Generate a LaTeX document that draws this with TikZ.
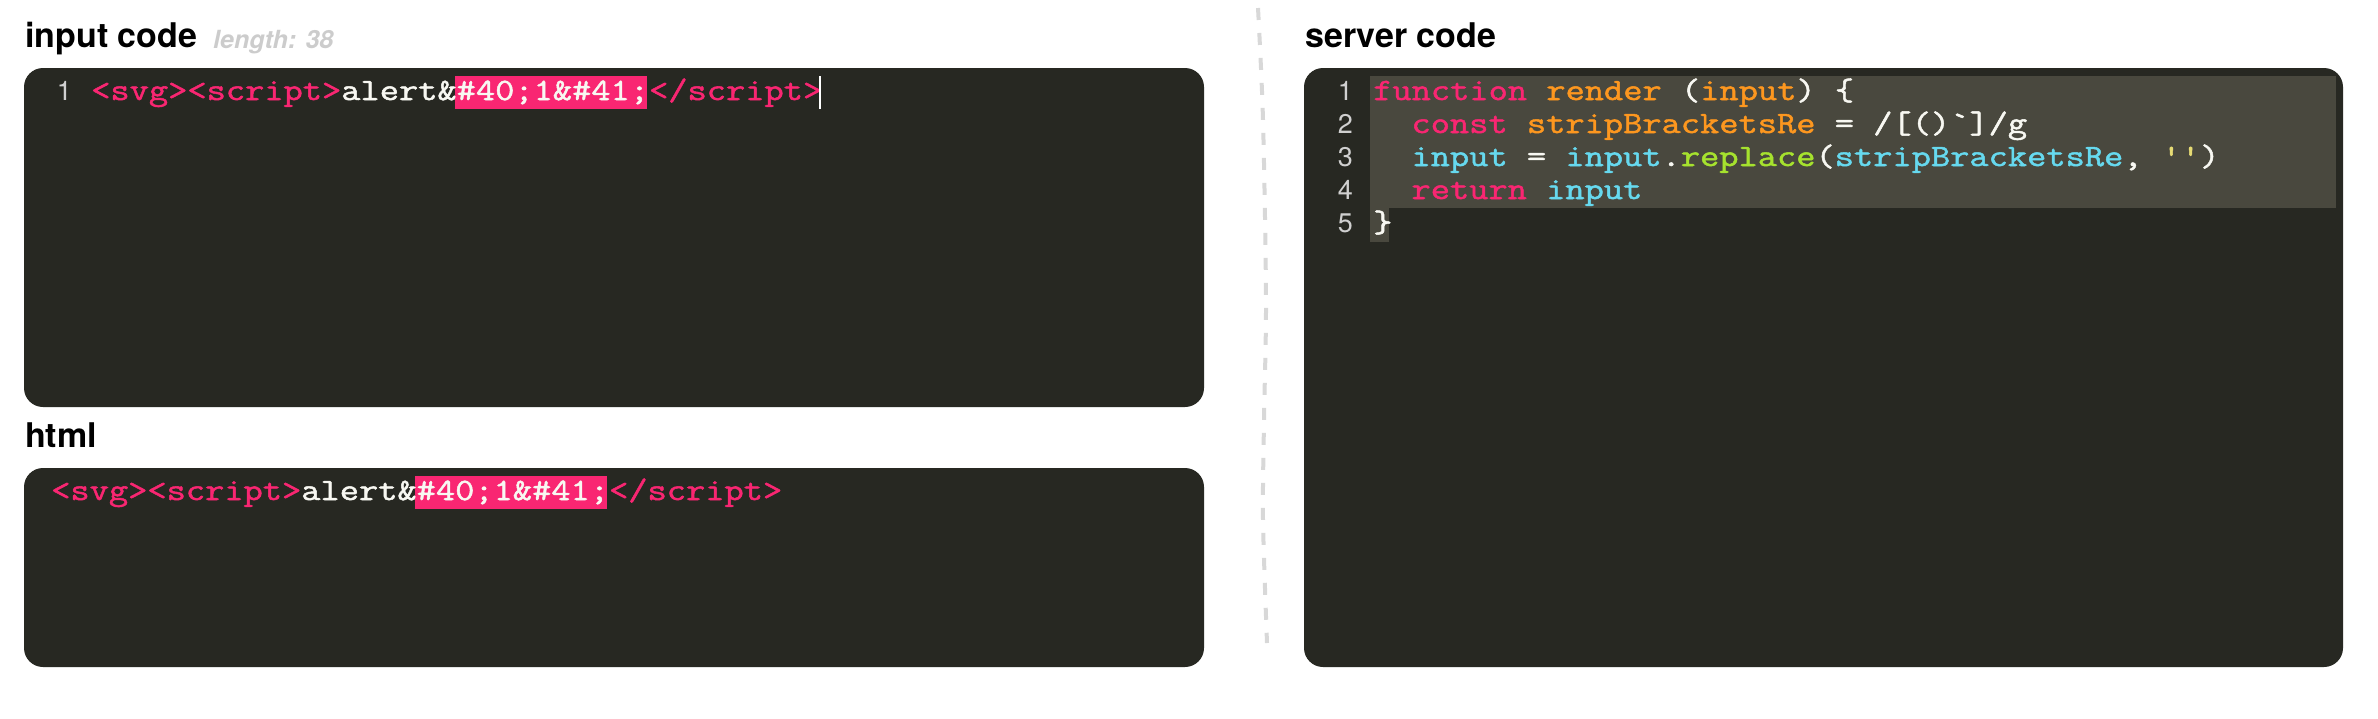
\documentclass[tikz,border=0pt]{standalone}
\usepackage{fontspec}
\newfontfamily\sansf{TeX Gyre Heros}
\newfontfamily\codef{Latin Modern Mono}[Ligatures=TeXOff,FakeStretch=1.205,FakeBold=1.6]
\definecolor{bgc}{HTML}{272822}
\definecolor{hlc}{HTML}{49483E}
\definecolor{pk}{HTML}{F92672}
\definecolor{orc}{HTML}{FD971F}
\definecolor{cy}{HTML}{66D9EF}
\definecolor{grc}{HTML}{A6E22E}
\definecolor{yl}{HTML}{E6DB74}
\definecolor{wt}{HTML}{F8F8F2}
\definecolor{gut}{HTML}{D0D0D0}
\definecolor{dashc}{HTML}{D8D8D8}
\definecolor{lgray}{HTML}{CCCCCC}
\begin{document}
\begin{tikzpicture}[x=1pt,y=-1pt,
  panel/.style={fill=bgc,rounded corners=19pt,draw=none},
  title/.style={anchor=base west,inner sep=0pt,font=\sansf\bfseries\fontsize{34}{36}\selectfont,text=black},
  codeline/.style={anchor=base west,inner sep=0pt,font=\codef\fontsize{31}{33}\selectfont,text=wt},
  lnum/.style={anchor=base east,inner sep=0pt,font=\sansf\fontsize{27}{29}\selectfont,text=gut},
  pinkhl/.style={fill=pk,draw=none},
  linehl/.style={fill=hlc,draw=none}]
\useasboundingbox (0,0) rectangle (2378,718);
\fill[white] (0,0) rectangle (2378,718);

% titles
\node[title] (tin) at (25,47) {input code};
\node[anchor=base west,inner sep=0pt,font=\sansf\bfseries\itshape\fontsize{25}{27}\selectfont,text=lgray] (tlen) at (213,48) {length: 38};
\node[title] (thtml) at (25,447) {html};
\node[title] (tsrv) at (1305,47) {server code};

% panels
\fill[panel] (24,68) rectangle (1204,407);
\fill[panel] (24,468) rectangle (1204,667);
\fill[panel] (1304,68) rectangle (2343,667);

% divider
\draw[draw=dashc,line width=4pt,dash pattern=on 12pt off 13pt]
  plot[smooth] coordinates {(1258,8) (1263,120) (1266,300) (1264,420) (1263,520) (1267,643)};

% input code
\fill[pinkhl] (455,76) rectangle (647,109);
\node[lnum] (in1) at (72,100) {1};
\node[codeline] (inc) at (91,100) {\textcolor{pk}{<svg><script>}alert\&\#40;1\&\#41;\textcolor{pk}{</script>}};
\draw[white,line width=2pt] (820,76) -- (820,109);

% html
\fill[pinkhl] (415,476) rectangle (607,509);
\node[codeline] (hc) at (51,500) {\textcolor{pk}{<svg><script>}alert\&\#40;1\&\#41;\textcolor{pk}{</script>}};

% server code
\fill[linehl] (1370,76) rectangle (2336,208);
\fill[linehl] (1370,208) rectangle (1389,242);
\node[lnum] (s1) at (1353,100) {1};
\node[lnum] (s2) at (1353,133) {2};
\node[lnum] (s3) at (1353,166) {3};
\node[lnum] (s4) at (1353,199) {4};
\node[lnum] (s5) at (1353,232) {5};
\node[codeline] (c1) at (1373,100) {\textcolor{pk}{function} \textcolor{orc}{render} (\textcolor{orc}{input}) \{};
\node[codeline] (c2) at (1411.3,133) {\textcolor{pk}{const} \textcolor{orc}{stripBracketsRe} = /[()`]/g};
\node[codeline] (c3) at (1411.3,166) {\textcolor{cy}{input} = \textcolor{cy}{input}.\textcolor{grc}{replace}(\textcolor{cy}{stripBracketsRe},\ \textcolor{yl}{''})};
\node[codeline] (c4) at (1411.3,199) {\textcolor{pk}{return} \textcolor{cy}{input}};
\node[codeline] (c5) at (1373,232) {\}};
\end{tikzpicture}
\end{document}
